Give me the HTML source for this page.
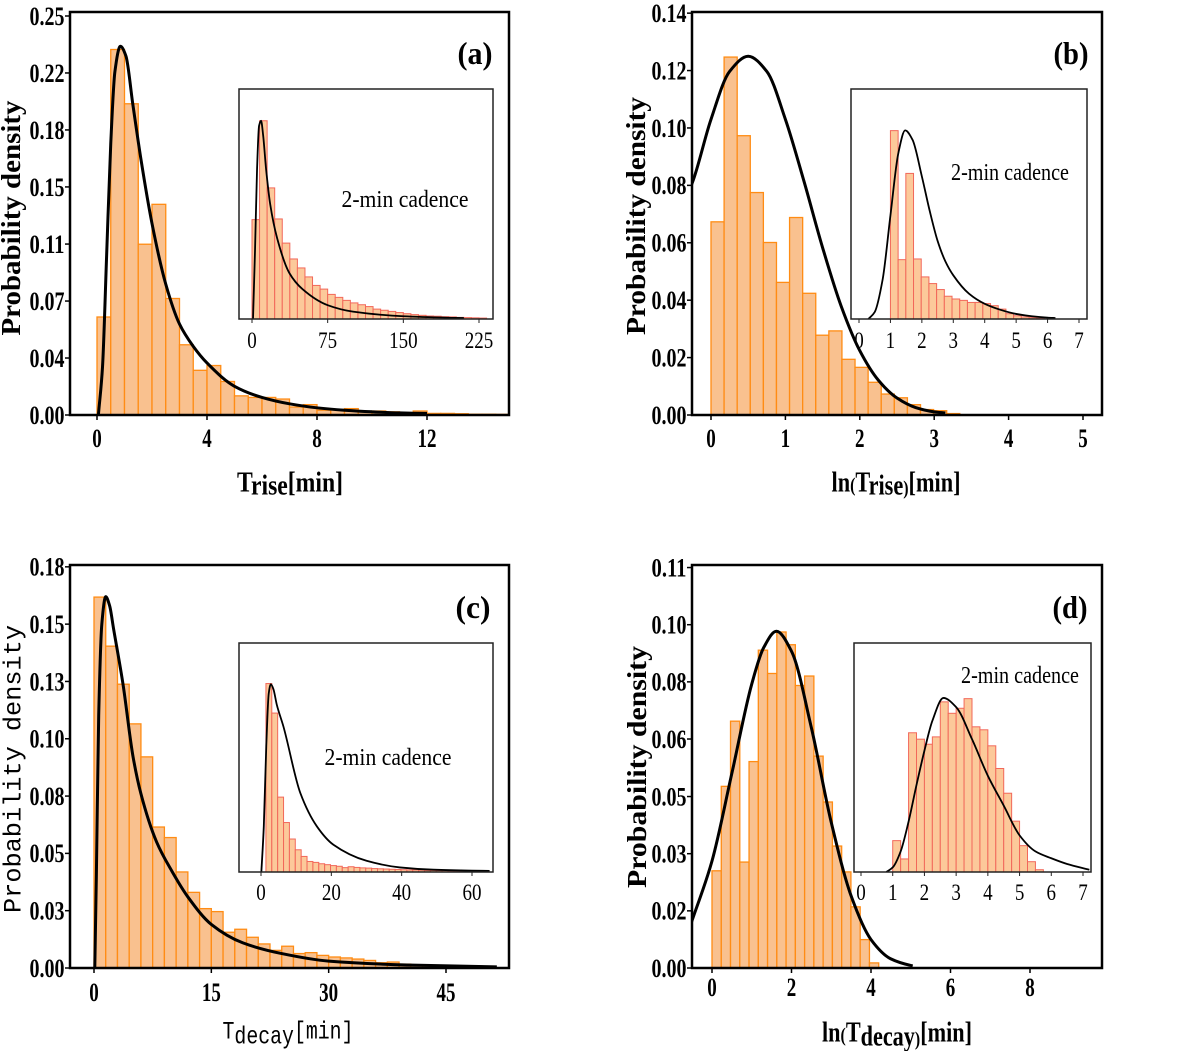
<!DOCTYPE html>
<html><head><meta charset="utf-8"><style>
html,body{margin:0;padding:0;background:#fff;}
svg{display:block;}
</style></head><body>
<svg id="fig" width="1200" height="1051" viewBox="0 0 1200 1051" xmlns="http://www.w3.org/2000/svg"></svg>
<script>
// ---------- DATA ----------
// Panel (a): Trise histogram
const aBinStart = 0, aBinWidth = 0.5;
const aHeights = [0.0614,0.229,0.195,0.107,0.132,0.073,0.044,0.028,0.031,0.021,0.012,0.011,0.011,0.010,0.005,0.0065,0.003,0.0035,0.004,0.002,0.0025,0.002,0.0015,0.0025,0.001,0.001,0.0008,0.0005,0.0005,0.0004];
const aCurveX = [0.05,0.2,0.35,0.5,0.65,0.85,1.05,1.3,1.6,2,2.5,3,3.5,4,5,6,7,8,9,10,11,12];
const aCurveY = [0,0.03,0.10,0.17,0.215,0.231,0.225,0.195,0.16,0.12,0.082,0.057,0.043,0.0326,0.018,0.011,0.007,0.0045,0.003,0.002,0.0013,0.001];
const aYTicks = [0,0.0357,0.0714,0.1071,0.1429,0.1786,0.2143,0.25];
const aYLabels = ['0.00','0.04','0.07','0.11','0.15','0.18','0.22','0.25'];
const aXTicks = [0,4,8,12];
const aInsetBinStart = 0, aInsetBinWidth = 7.5;
const aInsetHeights = [0.432,0.862,0.570,0.435,0.330,0.261,0.222,0.183,0.146,0.130,0.107,0.094,0.081,0.070,0.062,0.054,0.043,0.038,0.033,0.028,0.023,0.019,0.016,0.013,0.012,0.010,0.009,0.007,0.006,0.005,0.004];
const aInsetCurveX = [1,3,5,7,9,11,14,18,25,37,50,75,100,150,200,210];
const aInsetCurveY = [0,0.3,0.65,0.84,0.862,0.8,0.65,0.5,0.35,0.2,0.13,0.06,0.032,0.012,0.005,0.004];
const aInsetXTicks = [0,75,150,225];

// Panel (b): ln(Trise)
const bBinStart = 0, bBinWidth = 0.176;
const bHeights = [0.0673,0.1247,0.0973,0.0775,0.0601,0.0462,0.0688,0.0424,0.0278,0.0293,0.0194,0.0166,0.0114,0.0073,0.006,0.0036,0.0019,0.0015,0.0005];
const bCurveX = [-0.3,-0.25,0,0.25,0.5,0.75,1,1.25,1.5,1.75,2,2.25,2.5,2.75,3,3.15];
const bCurveY = [0.078,0.081,0.103,0.1197,0.125,0.1197,0.103,0.0814,0.0583,0.0379,0.0224,0.0121,0.0059,0.0026,0.0011,0.0007];
const bYTicks = [0,0.02,0.04,0.06,0.08,0.10,0.12,0.14];
const bYLabels = ['0.00','0.02','0.04','0.06','0.08','0.10','0.12','0.14'];
const bXTicks = [0,1,2,3,4,5];
const bInsetBinStart = 1, bInsetBinWidth = 0.245;
const bInsetHeights = [0.819,0.258,0.633,0.261,0.183,0.154,0.128,0.099,0.087,0.081,0.072,0.072,0.067,0.058,0.043,0.023,0.014,0.009,0.006,0.004];
const bInsetCurveX = [0.3,0.5,0.75,1,1.25,1.47,1.7,2,2.25,2.5,2.75,3,3.5,4,4.5,5,5.5,6,6.25];
const bInsetCurveY = [0,0.03,0.17,0.45,0.72,0.82,0.78,0.62,0.47,0.34,0.25,0.19,0.11,0.066,0.04,0.022,0.012,0.006,0.004];
const bInsetXTicks = [0,1,2,3,4,5,6,7];

// Panel (c): Tdecay
const cBinStart = 0, cBinWidth = 1.5;
const cHeights = [0.1618,0.1404,0.1238,0.1065,0.0921,0.0615,0.0569,0.0419,0.0330,0.0259,0.0246,0.0156,0.0169,0.0134,0.0105,0.0077,0.0095,0.0063,0.0067,0.0055,0.0048,0.0044,0.0039,0.0033,0.0023,0.0026,0.0017,0.0012,0.0010,0.0007,0.0006,0.0004,0.0003,0.0002];
const cCurveX = [0.1,0.3,0.6,1,1.5,2,2.5,3.7,5,6,8,10,12,15,19,24,30,40,51.5];
const cCurveY = [0,0.04,0.11,0.15,0.162,0.158,0.148,0.124,0.092,0.076,0.055,0.042,0.031,0.019,0.011,0.0063,0.003,0.0013,0.0005];
const cYTicks = [0,0.025,0.05,0.075,0.1,0.125,0.15,0.175];
const cYLabels = ['0.00','0.03','0.05','0.08','0.10','0.13','0.15','0.18'];
const cXTicks = [0,15,30,45];
const cInsetBinStart = 1.4, cInsetBinWidth = 1.67;
const cInsetHeights = [0.823,0.694,0.327,0.216,0.144,0.097,0.068,0.046,0.042,0.036,0.032,0.028,0.025,0.019,0.023,0.020,0.018,0.017,0.015,0.014,0.013,0.012,0.011,0.010,0.009,0.009,0.008,0.007,0.007,0.006,0.006,0.005,0.005,0.004,0.004,0.004,0.003,0.003];
const cInsetCurveX = [0.1,0.8,1.5,2.2,2.8,3.5,4.5,6.4,11.2,15.9,20.6,30,39.5,49,60,65];
const cInsetCurveY = [0,0.2,0.55,0.78,0.82,0.8,0.73,0.634,0.344,0.199,0.119,0.049,0.02,0.01,0.006,0.005];
const cInsetXTicks = [0,20,40,60];

// Panel (d): ln(Tdecay)
const dBinStart = 0, dBinWidth = 0.233;
const dHeights = [0.0267,0.0499,0.0678,0.0291,0.0567,0.0873,0.0809,0.0923,0.0888,0.0776,0.0802,0.0582,0.0456,0.0335,0.0264,0.0168,0.0078,0.0014];
const dCurveX = [-0.55,-0.5,0,0.5,1,1.3,1.62,2,2.5,3,3.5,4,4.5,5,5.05];
const dCurveY = [0.0115,0.0131,0.0294,0.0535,0.078,0.088,0.0925,0.087,0.066,0.040,0.0198,0.0078,0.0025,0.0007,0.0006];
const dYTicks = [0,0.0157,0.0314,0.0471,0.0629,0.0786,0.0943,0.11];
const dYLabels = ['0.00','0.02','0.03','0.05','0.06','0.08','0.10','0.11'];
const dXTicks = [0,2,4,6,8];
const dInsetBinStart = 1, dInsetBinWidth = 0.25;
const dInsetHeights = [0.137,0.057,0.608,0.580,0.558,0.590,0.743,0.693,0.715,0.757,0.634,0.621,0.551,0.452,0.344,0.222,0.115,0.045,0.010];
const dInsetCurveX = [0.8,1,1.25,1.5,1.75,2,2.25,2.6,3,3.5,4,4.5,5,5.5,6,6.5,7.2];
const dInsetCurveY = [0,0.02,0.09,0.22,0.38,0.53,0.66,0.76,0.72,0.58,0.42,0.29,0.16,0.09,0.06,0.035,0.01];
const dInsetXTicks = [0,1,2,3,4,5,6,7];

// ---------- DRAWING ----------
const NS = 'http://www.w3.org/2000/svg';
const svg = document.getElementById('fig');
function mk(tag, attrs, parent){
  const e = document.createElementNS(NS, tag);
  for (const k in attrs) e.setAttribute(k, attrs[k]);
  (parent || svg).appendChild(e);
  return e;
}
function scale(d0, d1, r0, r1){ return v => r0 + (v - d0) * (r1 - r0) / (d1 - d0); }
// monotone cubic (Fritsch-Carlson) path in pixel space
function smoothPath(xs, ys){
  const n = xs.length;
  const dx = [], m = [], t = new Array(n);
  for (let i = 0; i < n - 1; i++){ dx[i] = xs[i+1] - xs[i]; m[i] = (ys[i+1] - ys[i]) / dx[i]; }
  t[0] = m[0]; t[n-1] = m[n-2];
  for (let i = 1; i < n - 1; i++){
    if (m[i-1] * m[i] <= 0) t[i] = 0;
    else { const w1 = 2*dx[i] + dx[i-1], w2 = dx[i] + 2*dx[i-1]; t[i] = (w1 + w2) / (w1 / m[i-1] + w2 / m[i]); }
  }
  let d = 'M' + xs[0].toFixed(2) + ',' + ys[0].toFixed(2);
  for (let i = 0; i < n - 1; i++){
    const h = dx[i] / 3;
    d += ' C' + (xs[i] + h).toFixed(2) + ',' + (ys[i] + t[i]*h).toFixed(2) + ' ' + (xs[i+1] - h).toFixed(2) + ',' + (ys[i+1] - t[i+1]*h).toFixed(2) + ' ' + xs[i+1].toFixed(2) + ',' + ys[i+1].toFixed(2);
  }
  return d;
}
function txt(parent, str, cx, cy, size, len, opts){
  opts = opts || {};
  const t = mk('text', {x: cx, y: cy + size * 0.34, 'font-size': size, 'text-anchor': 'middle',
    'font-family': opts.family || '"Liberation Serif", serif', 'font-weight': opts.bold ? 'bold' : 'normal',
    fill: '#000'}, parent);
  if (len) { t.setAttribute('textLength', len); t.setAttribute('lengthAdjust', 'spacingAndGlyphs'); }
  if (opts.rotate) t.setAttribute('transform', 'rotate(-90 ' + cx + ' ' + cy + ')');
  if (Array.isArray(str)) {
    str.forEach(p => { const s = mk('tspan', {}, t); if (p.dy) s.setAttribute('dy', p.dy); if (p.size) s.setAttribute('font-size', p.size); s.textContent = p.t; });
  } else t.textContent = str;
  return t;
}
let clipId = 0;
function histogram(g, xs, ys, start, width, heights, fill, stroke, sw){
  heights.forEach((h, i) => {
    const x0 = xs(start + i * width), x1 = xs(start + (i + 1) * width);
    const r = mk('rect', {x: x0, y: ys(h), width: x1 - x0, height: Math.max(0, ys(0) - ys(h)), fill: fill, stroke: stroke, 'stroke-width': sw}, g);
    
    
  });
}
function curve(g, xs, ys, cx, cy, w){
  const p = mk('path', {d: smoothPath(cx.map(xs), cy.map(ys)), fill: 'none', stroke: '#000', 'stroke-width': w, 'stroke-linejoin': 'round'}, g);
  
  
}
function panel(P){
  const g = mk('g', {});
  
  
  const xs = scale(0, P.xRef, P.x0px, P.xRefPx);
  const ys = scale(0, P.ymax, P.box[3], P.box[1]);
  const id = 'clip' + (clipId++);
  const cp = mk('clipPath', {id: id}, g);
  mk('rect', {x: P.box[0], y: P.box[1], width: P.box[2] - P.box[0], height: P.box[3] - P.box[1]}, cp);
  const plot = mk('g', {'clip-path': 'url(#' + id + ')'}, g);
  
  
  histogram(plot, xs, ys, P.binStart, P.binWidth, P.heights, '#f9c18f', '#ff8c14', 1.3);
  curve(plot, xs, ys, P.curveX, P.curveY, 3);
  const box = mk('rect', {x: P.box[0], y: P.box[1], width: P.box[2] - P.box[0], height: P.box[3] - P.box[1], fill: 'none', stroke: '#000', 'stroke-width': 2.5}, g);
  
  
  P.yTicks.forEach((v, i) => {
    const y = ys(v);
    mk('line', {x1: P.box[0] - 5, x2: P.box[0], y1: y, y2: y, stroke: '#000', 'stroke-width': 1.5}, g);
    const t = txt(g, P.yLabels[i], P.box[0] - 23, y, 26, 35, {bold: true});
    
    
  });
  P.xTicks.forEach(v => {
    const x = xs(v);
    mk('line', {x1: x, x2: x, y1: P.box[3], y2: P.box[3] + 5, stroke: '#000', 'stroke-width': 1.5}, g);
    const s = String(v);
    const t = txt(g, s, x, P.xLabY, 26, s.length * 9.5, {bold: true});
    
    
  });
  const I = P.inset;
  const ig = mk('g', {}, g);
  
  
  mk('rect', {x: I.box[0], y: I.box[1], width: I.box[2] - I.box[0], height: I.box[3] - I.box[1], fill: '#fff', stroke: 'none'}, ig);
  const ixs = scale(0, I.xRef, I.x0px, I.xRefPx);
  const iys = scale(0, 1, I.box[3], I.box[1]);
  const iid = 'clip' + (clipId++);
  const icp = mk('clipPath', {id: iid}, ig);
  mk('rect', {x: I.box[0], y: I.box[1], width: I.box[2] - I.box[0], height: I.box[3] - I.box[1]}, icp);
  const iplot = mk('g', {'clip-path': 'url(#' + iid + ')'}, ig);
  histogram(iplot, ixs, iys, I.binStart, I.binWidth, I.heights, '#fcc99a', '#f2685a', 1);
  curve(iplot, ixs, iys, I.curveX, I.curveY, 1.8);
  const ibox = mk('rect', {x: I.box[0], y: I.box[1], width: I.box[2] - I.box[0], height: I.box[3] - I.box[1], fill: 'none', stroke: '#222', 'stroke-width': 1.5}, ig);
  
  
  I.xTicks.forEach(v => {
    const x = ixs(v);
    mk('line', {x1: x, x2: x, y1: I.box[3], y2: I.box[3] + 4, stroke: '#222', 'stroke-width': 1}, ig);
    const s = String(v);
    const t = txt(ig, s, x, I.labY, 23, s.length * 9.5, {});
    
    
  });
  const note = txt(ig, '2-min cadence', I.noteX, I.noteY, 24, I.noteW, {});
  
  
  const letter = txt(g, '(' + P.id + ')', P.letterX, P.letterY, 32, 35, {bold: true});
  
  
  const yt = txt(g, 'Probability density', P.yTitle[0], P.yTitle[1], P.yTitleMono ? 25 : 27, P.yTitle[2], {bold: !P.yTitleMono, rotate: true, family: P.yTitleMono ? '"Liberation Mono", monospace' : undefined});
  
  
  const xt = txt(g, P.xTitle, P.xTitlePos[0], P.xTitlePos[1], P.xTitleMono ? 25 : 28, P.xTitlePos[2], {bold: !P.xTitleMono, family: P.xTitleMono ? '"Liberation Mono", monospace' : undefined});
  
  
}

panel({id: 'a', box: [70, 12, 509, 415], x0px: 97, xRef: 12, xRefPx: 427, ymax: 0.2525,
  binStart: aBinStart, binWidth: aBinWidth, heights: aHeights, curveX: aCurveX, curveY: aCurveY,
  yTicks: aYTicks, yLabels: aYLabels, xTicks: aXTicks, xLabY: 438,
  letterX: 475, letterY: 53, yTitle: [11, 218, 235],
  xTitle: [{t: 'T'}, {t: 'rise', dy: 3}, {t: '[min]', dy: -3}], xTitlePos: [290, 482, 106],
  inset: {box: [239, 89, 493, 319], x0px: 252, xRef: 225, xRefPx: 479, binStart: aInsetBinStart, binWidth: aInsetBinWidth,
    heights: aInsetHeights, curveX: aInsetCurveX, curveY: aInsetCurveY, xTicks: aInsetXTicks, labY: 340,
    noteX: 405, noteY: 199, noteW: 127}});

panel({id: 'b', box: [692, 12, 1102, 415], x0px: 711, xRef: 5, xRefPx: 1083, ymax: 0.1404,
  binStart: bBinStart, binWidth: bBinWidth, heights: bHeights, curveX: bCurveX, curveY: bCurveY,
  yTicks: bYTicks, yLabels: bYLabels, xTicks: bXTicks, xLabY: 438,
  letterX: 1071, letterY: 53, yTitle: [636, 216, 238],
  xTitle: [{t: 'ln'}, {t: '(', size: 20}, {t: 'T'}, {t: 'rise', dy: 3}, {t: ')', size: 20}, {t: '[min]', dy: -3}], xTitlePos: [896, 482, 129],
  inset: {box: [851, 89, 1087, 319], x0px: 859, xRef: 7, xRefPx: 1079, binStart: bInsetBinStart, binWidth: bInsetBinWidth,
    heights: bInsetHeights, curveX: bInsetCurveX, curveY: bInsetCurveY, xTicks: bInsetXTicks, labY: 340,
    noteX: 1010, noteY: 172, noteW: 118}});

panel({id: 'c', box: [70, 565, 509, 968], x0px: 94, xRef: 45, xRefPx: 446, ymax: 0.1758,
  binStart: cBinStart, binWidth: cBinWidth, heights: cHeights, curveX: cCurveX, curveY: cCurveY,
  yTicks: cYTicks, yLabels: cYLabels, xTicks: cXTicks, xLabY: 992,
  letterX: 473, letterY: 607, yTitle: [12, 769, 288], yTitleMono: true,
  xTitle: [{t: 'T'}, {t: 'decay', dy: 5}, {t: '[min]', dy: -5}], xTitlePos: [288, 1030, 131], xTitleMono: true,
  inset: {box: [239, 643, 493, 872], x0px: 261, xRef: 60, xRefPx: 472, binStart: cInsetBinStart, binWidth: cInsetBinWidth,
    heights: cInsetHeights, curveX: cInsetCurveX, curveY: cInsetCurveY, xTicks: cInsetXTicks, labY: 892,
    noteX: 388, noteY: 757, noteW: 127}});

panel({id: 'd', box: [692, 565, 1102, 968], x0px: 712, xRef: 8, xRefPx: 1030, ymax: 0.1107,
  binStart: dBinStart, binWidth: dBinWidth, heights: dHeights, curveX: dCurveX, curveY: dCurveY,
  yTicks: dYTicks, yLabels: dYLabels, xTicks: dXTicks, xLabY: 987,
  letterX: 1070, letterY: 607, yTitle: [637, 767, 242],
  xTitle: [{t: 'ln'}, {t: '(', size: 20}, {t: 'T'}, {t: 'decay', dy: 4}, {t: ')', size: 20}, {t: '[min]', dy: -4}], xTitlePos: [897, 1032, 150],
  inset: {box: [854, 643, 1091, 872], x0px: 861, xRef: 7, xRefPx: 1083, binStart: dInsetBinStart, binWidth: dInsetBinWidth,
    heights: dInsetHeights, curveX: dInsetCurveX, curveY: dInsetCurveY, xTicks: dInsetXTicks, labY: 892,
    noteX: 1020, noteY: 675, noteW: 118}});
</script>
</body></html>
